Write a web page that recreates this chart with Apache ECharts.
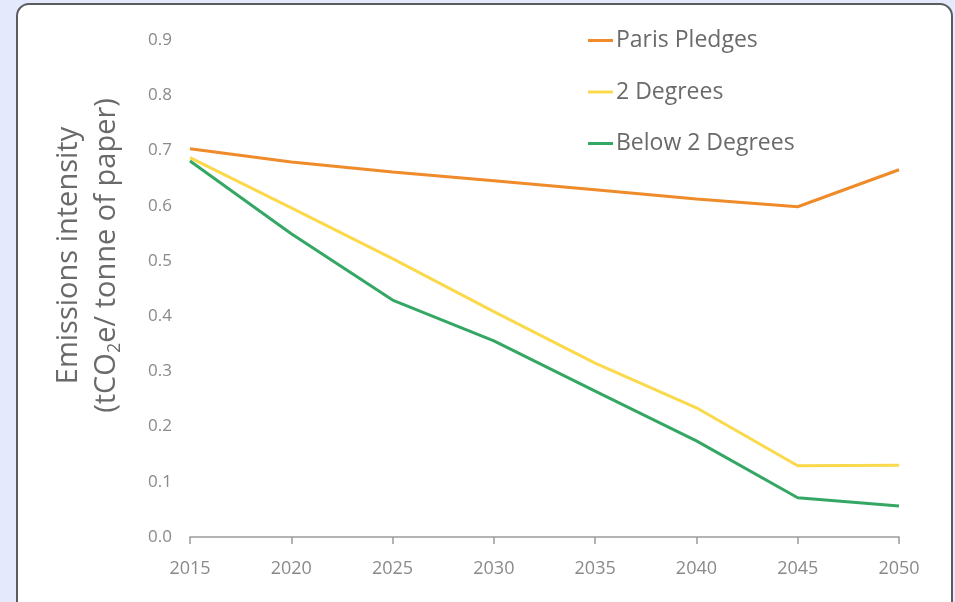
<!DOCTYPE html>
<html>
<head>
<meta charset="utf-8">
<script src="https://cdn.jsdelivr.net/npm/echarts@6/dist/echarts.min.js"></script>
<style>
  html, body { margin: 0; padding: 0; background: #e4e9fb; }
  #panel {
    position: absolute; left: 16px; top: 3px; width: 933px; height: 610px;
    background: #ffffff; border: 2px solid #5a5c60; border-radius: 13px;
    overflow: hidden;
  }
  #chart { position: absolute; left: -18px; top: -5px; width: 955px; height: 602px; }
</style>
</head>
<body>
<div id="panel"><div id="chart"></div></div>
<script>
// Emissions intensity pathways for paper production
const years = [2015, 2020, 2025, 2030, 2035, 2040, 2045, 2050];
const parisPledges   = [0.703, 0.679, 0.661, 0.645, 0.629, 0.612, 0.598, 0.665];
const twoDegrees     = [0.687, 0.596, 0.504, 0.408, 0.315, 0.234, 0.129, 0.130];
const belowTwoDegree = [0.681, 0.549, 0.429, 0.355, 0.264, 0.174, 0.071, 0.056];
const seriesNames = ['Paris Pledges', '2 Degrees', 'Below 2 Degrees'];
const seriesColors = ['#ef8b2a', '#fad94c', '#35a764'];

const font = '"Open Sans", "Noto Sans", sans-serif';
const pair = arr => years.map((y, i) => [y, arr[i]]);

const chart = echarts.init(document.getElementById('chart'), null, { renderer: 'canvas' });
chart.setOption({
  animation: false,
  textStyle: { fontFamily: font },
  grid: { left: 190, right: 56, top: 40, bottom: 65, containLabel: false },
  legend: {
    orient: 'vertical',
    left: 583, top: 24,
    icon: 'rect',
    itemWidth: 25, itemHeight: 3,
    itemGap: 28.5,
    textStyle: { fontFamily: font, fontSize: 23, color: '#6a6a6a', padding: [0, 0, 0, -2] },
    data: seriesNames
  },
  xAxis: {
    type: 'value',
    min: 2015, max: 2050, interval: 5,
    axisLine: { lineStyle: { color: '#9a9a9a', width: 1.5 } },
    axisTick: { show: true, length: 7, lineStyle: { color: '#9a9a9a', width: 1.5 } },
    splitLine: { show: false },
    axisLabel: { color: '#8a8a8a', fontSize: 18, margin: 23, fontFamily: font, formatter: v => String(v) }
  },
  yAxis: {
    type: 'value',
    min: 0, max: 0.9, interval: 0.1,
    axisLine: { show: false },
    axisTick: { show: false },
    splitLine: { show: false },
    axisLabel: {
      color: '#8a8a8a', fontSize: 17, margin: 18, fontFamily: font,
      formatter: v => v.toFixed(1)
    },
    name: '{t|Emissions intensity}\n{t|(tCO}{s|2}{t|e/ tonne of paper)}',
    nameLocation: 'middle',
    nameRotate: 90,
    nameGap: 64,
    nameTextStyle: {
      color: '#6a6a6a',
      padding: [0, 0, 0, 66],
      rich: {
        t: { fontSize: 29, fontFamily: font, color: '#6a6a6a', lineHeight: 38 },
        s: { fontSize: 18, fontFamily: font, color: '#6a6a6a', lineHeight: 38, padding: [16, 0, 0, 0] }
      }
    }
  },
  series: [
    { name: seriesNames[0], type: 'line', data: pair(parisPledges) },
    { name: seriesNames[1], type: 'line', data: pair(twoDegrees) },
    { name: seriesNames[2], type: 'line', data: pair(belowTwoDegree) }
  ].map((s, i) => Object.assign(s, {
    showSymbol: false, symbol: 'none',
    color: seriesColors[i],
    lineStyle: { color: seriesColors[i], width: 3 },
    itemStyle: { color: seriesColors[i] }
  }))
});
</script>
</body>
</html>
